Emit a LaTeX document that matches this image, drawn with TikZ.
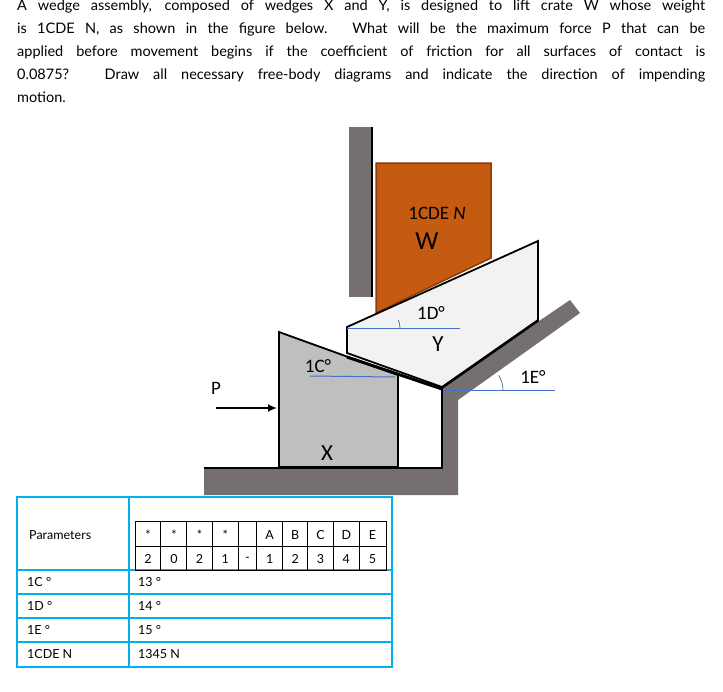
\documentclass[tikz,border=0pt]{standalone}
\usepackage{fontspec}
\usetikzlibrary{arrows.meta}
\setmainfont{Lato}
\newfontfamily\carl{Carlito}
\definecolor{gr}{RGB}{117,112,111}
\definecolor{cr}{RGB}{197,90,17}
\definecolor{crd}{RGB}{140,60,10}
\definecolor{cy}{RGB}{0,176,240}
\definecolor{bl}{RGB}{68,114,196}
\definecolor{wx}{RGB}{191,191,191}
\definecolor{wy}{RGB}{242,242,242}
\begin{document}
\begin{tikzpicture}[x=1pt,y=-1pt,
  lab/.style={font=\carl\fontsize{19}{19}\selectfont,inner sep=0},
  tb/.style={font=\fontsize{12.5}{12.5}\selectfont,inner sep=0,anchor=west},
  gc/.style={font=\fontsize{12.5}{12.5}\selectfont,inner sep=0},
  ang/.style={bl,line width=1pt},
  arcs/.style={draw=bl!70!black,line width=0.6pt}]
\useasboundingbox[fill=white] (0,0) rectangle (723,691);
\node[anchor=north west,inner sep=0,text width=688pt,align=justify,font=\fontsize{14.5}{23}\selectfont] (txt) at (17,0) {A wedge assembly, composed of wedges X and Y, is designed to lift crate W whose weight\linebreak is 1CDE N, as shown in the figure below. What will be the maximum force P that can be\linebreak applied before movement begins if the coefficient of friction for all surfaces of contact is\linebreak 0.0875? Draw all necessary free-body diagrams and indicate the direction of impending\linebreak motion.};
% walls
\fill[gr] (349,127) rectangle (372,297);
\draw[line width=2.5pt] (372,127) -- (372,297);
\fill[gr] (204,468) -- (442,468) -- (442,387) -- (570,300) -- (580,313) -- (458,400) -- (458,495) -- (204,495) -- cycle;
\draw[line width=2pt] (204,468) -- (442,468) -- (442,387);
\draw[line width=3.5pt] (442,387) -- (538,320);
\draw[line width=3.5pt] (279,467) -- (398,467);
% crate
\draw[fill=cr,draw=crd,line width=1.5pt] (376,163) -- (491,163) -- (491,258) -- (376,313) -- cycle;
\node[lab] (wlab) at (437,213) {1CDE \textit{N}};
\node[lab,font=\carl\fontsize{26}{26}\selectfont] (w) at (427,241) {W};
% wedge Y
\draw[fill=wy,line width=1.8pt] (347,327) -- (538,241) -- (538,320) -- (442,387) -- (347,353) -- cycle;
% wedge X
\draw[fill=wx,line width=1.8pt] (279,332) -- (398,375) -- (398,467) -- (279,467) -- cycle;
\draw[line width=3pt] (347,357) -- (442,389);
% angle lines
\draw[ang] (310,376) -- (395,377);
\draw[arcs] (350,377) arc[start angle=180, end angle=160, radius=4pt];
\draw[ang] (347,328) -- (460,328);
\draw[arcs] (400,328) arc[start angle=0, end angle=24, radius=20pt];
\draw[ang] (443,390) -- (555,390);
\draw[arcs] (503,390) arc[start angle=0, end angle=33, radius=27pt];
\node[lab] (d) at (431,313) {1D\textdegree};
\node[lab,font=\carl\fontsize{23}{23}\selectfont] (y) at (438,344) {Y};
\node[lab] (c) at (318,366) {1C\textdegree};
\node[lab] (e) at (533,377) {1E\textdegree};
\node[lab,font=\carl\fontsize{23}{23}\selectfont] (x) at (327,453) {X};
\node[lab] (p) at (216,388) {P};
\coordinate (pa) at (216,408);
\coordinate (pb) at (277,408);
\draw[line width=2pt,-{Latex[length=9pt,width=8pt]}] (pa) -- (pb);
% table
\draw[cy,line width=1.5pt] (17,497) rectangle (392,667);
\foreach \yy in {570,594,618,642} \draw[cy,line width=1.5pt] (17,\yy) -- (392,\yy);
\draw[cy,line width=1.5pt] (129,497) -- (129,667);
\draw[line width=0.6pt] (135,521) rectangle (386,570);
\draw[line width=0.6pt] (135,546) -- (386,546);
\foreach \xx in {160.7,186.7,212.3,238.3,256.7,282.7,307.7,333.3,359.3} \draw[line width=0.6pt] (\xx,521) -- (\xx,570);
\node[gc] (s1) at (148,535) {*};
\node[gc] (s2) at (174,535) {*};
\node[gc] (s3) at (199.5,535) {*};
\node[gc] (s4) at (225.3,535) {*};
\node[gc] (ca) at (269.7,535) {A};
\node[gc] (cb) at (295.2,535) {B};
\node[gc] (cc) at (320.5,535) {C};
\node[gc] (cd) at (346.3,535) {D};
\node[gc] (ce) at (372.5,535) {E};
\node[gc] (n1) at (148,559) {2};
\node[gc] (n2) at (174,559) {0};
\node[gc] (n3) at (199.5,559) {2};
\node[gc] (n4) at (225.3,559) {1};
\node[gc] (n5) at (247.5,559) {-};
\node[gc] (n6) at (269.7,559) {1};
\node[gc] (n7) at (295.2,559) {2};
\node[gc] (n8) at (320.5,559) {3};
\node[gc] (n9) at (346.3,559) {4};
\node[gc] (n10) at (372.5,559) {5};
\node[tb] (pr) at (29,535) {Parameters};
\node[tb] (r1) at (27,582) {1C \textdegree};
\node[tb] (r2) at (27,606) {1D \textdegree};
\node[tb] (r3) at (27,630) {1E \textdegree};
\node[tb] (r4) at (27,654) {1CDE N};
\node[tb] (v1) at (138,582) {13 \textdegree};
\node[tb] (v2) at (138,606) {14 \textdegree};
\node[tb] (v3) at (138,630) {15 \textdegree};
\node[tb] (v4) at (138,654) {1345 N};
\end{tikzpicture}
\end{document}
